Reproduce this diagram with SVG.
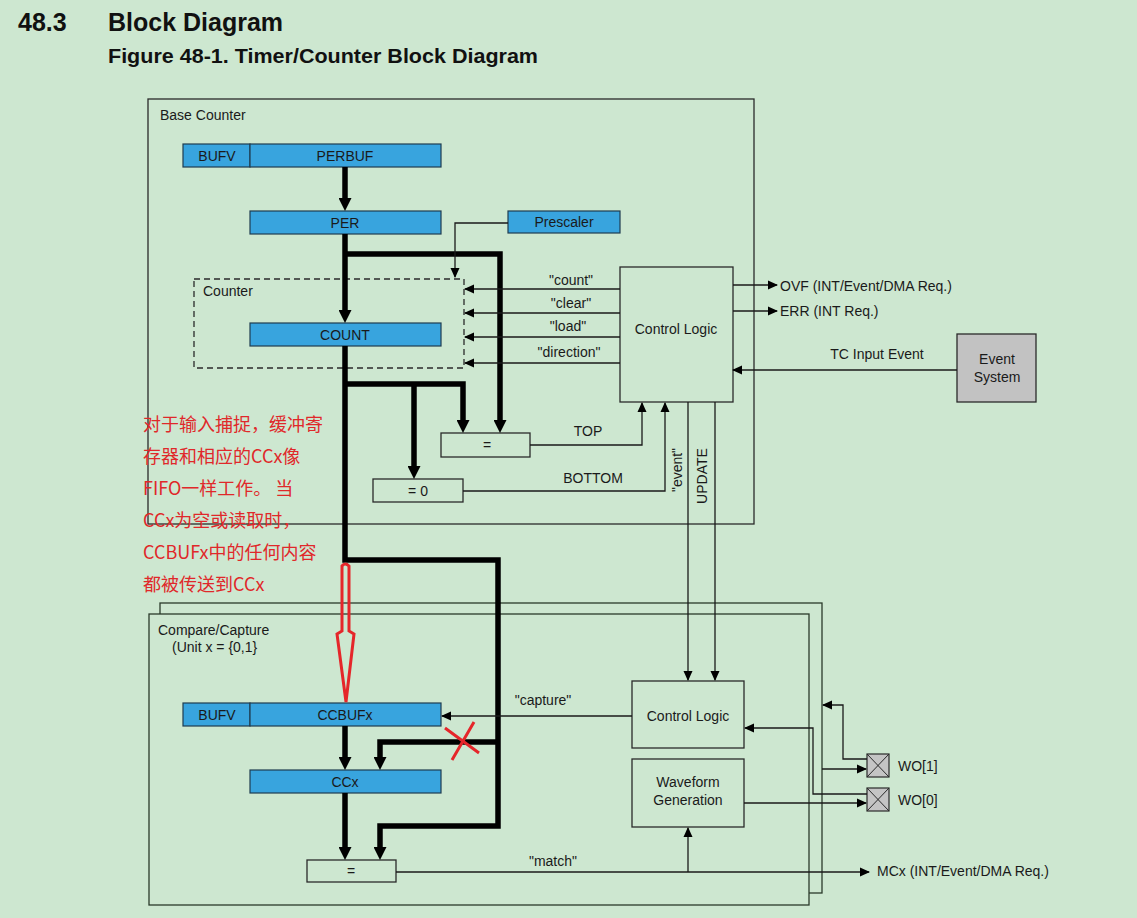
<svg xmlns="http://www.w3.org/2000/svg" width="1137" height="918" viewBox="0 0 1137 918">
<defs>
<style>
text{font-family:"Liberation Sans",Arial,sans-serif;font-size:14px;fill:#1a1a1a}
.h{font-weight:bold;fill:#111}
.c{text-anchor:middle}
.reg{fill:#38a4de;stroke:#1e3c50;stroke-width:1.2}
.box{fill:none;stroke:#2a2a2a;stroke-width:1.3}
.frame{fill:#cde7d0;stroke:#2a3a2a;stroke-width:1.3}
.thin{fill:none;stroke:#1a1a1a;stroke-width:1.3}
.thick{fill:none;stroke:#000;stroke-width:5.5;stroke-linejoin:miter}
.red{font-family:"Noto Sans CJK SC","Noto Sans",sans-serif;font-size:18px;fill:#e0282a}
.redl{fill:none;stroke:#e5262a;stroke-width:3}
</style>
<marker id="ta" viewBox="0 0 13 13" markerWidth="13" markerHeight="13" refX="3" refY="6.5" orient="auto" markerUnits="userSpaceOnUse"><path d="M0,0 L13,6.5 L0,13 Z" fill="#000"/></marker>
<marker id="a" viewBox="0 0 10 10" markerWidth="10" markerHeight="10" refX="9" refY="5" orient="auto" markerUnits="userSpaceOnUse"><path d="M0,0.5 L10,5 L0,9.5 Z" fill="#000"/></marker>
</defs>
<rect width="1137" height="918" fill="#cde7d0"/>
<g id="header">
<text class="h" x="18" y="31" style="font-size:25px">48.3</text>
<text class="h" x="108" y="31" style="font-size:25px">Block Diagram</text>
<text class="h" x="108" y="63" style="font-size:21px" textLength="430" lengthAdjust="spacingAndGlyphs">Figure 48-1.  Timer/Counter Block Diagram</text>
</g>
<g id="base-counter">
<rect class="box" x="148" y="99" width="606" height="425"/>
<text x="160" y="120">Base Counter</text>
</g>
<g id="counter-frame">
<rect x="194" y="279" width="270" height="89" fill="none" stroke="#2a2a2a" stroke-width="1.3" stroke-dasharray="6,4"/>
<text x="203" y="296">Counter</text>
</g>
<g id="perbuf">
<rect class="reg" x="183" y="144" width="67" height="23"/>
<rect class="reg" x="250" y="144" width="191" height="23"/>
<text class="c" x="217" y="161">BUFV</text>
<text class="c" x="345" y="161">PERBUF</text>
</g>
<g id="per"><rect class="reg" x="250" y="211" width="191" height="23"/><text class="c" x="345" y="228">PER</text></g>
<g id="prescaler"><rect class="reg" x="508" y="211" width="112" height="22"/><text class="c" x="564" y="227">Prescaler</text></g>
<g id="count"><rect class="reg" x="250" y="323" width="191" height="23"/><text class="c" x="345" y="340">COUNT</text></g>
<g id="eq-top"><rect class="box" x="441" y="433" width="89" height="24"/><text class="c" x="487" y="450">=</text></g>
<g id="eq-zero"><rect class="box" x="373" y="479" width="90" height="23"/><text class="c" x="418" y="496">= 0</text></g>
<g id="control-logic-1"><rect class="box" x="620" y="267" width="113" height="135"/><text class="c" x="676" y="334">Control Logic</text></g>
<g id="event-system"><rect x="957" y="334" width="79" height="68" fill="#c2c2c2" stroke="#2a2a2a" stroke-width="1.3"/><text class="c" x="997" y="364">Event</text><text class="c" x="997" y="382">System</text></g>

<g id="cc-frames">
<rect class="frame" x="160" y="603" width="662" height="290"/>
<rect class="frame" x="149" y="614" width="660" height="291"/>
<text x="158" y="635">Compare/Capture</text>
<text x="172" y="652">(Unit x = {0,1}</text>
</g>
<g id="ccbufx">
<rect class="reg" x="183" y="703" width="67" height="23"/>
<rect class="reg" x="250" y="703" width="191" height="23"/>
<text class="c" x="217" y="720">BUFV</text>
<text class="c" x="345" y="720">CCBUFx</text>
</g>
<g id="ccx"><rect class="reg" x="250" y="770" width="191" height="23"/><text class="c" x="345" y="787">CCx</text></g>
<g id="eq-cc"><rect class="box" x="307" y="860" width="89" height="22"/><text class="c" x="351" y="876">=</text></g>
<g id="control-logic-2"><rect class="box" x="632" y="681" width="112" height="67"/><text class="c" x="688" y="721">Control Logic</text></g>
<g id="waveform"><rect class="box" x="632" y="759" width="112" height="68"/><text class="c" x="688" y="787">Waveform</text><text class="c" x="688" y="805">Generation</text></g>
<g id="wo1"><rect x="867" y="754" width="22" height="23" fill="#c4c4c4" stroke="#2a2a2a" stroke-width="1.2"/><path d="M867,754 L889,777 M889,754 L867,777" stroke="#2a2a2a" stroke-width="1"/><text x="898" y="771">WO[1]</text></g>
<g id="wo0"><rect x="867" y="788" width="22" height="23" fill="#c4c4c4" stroke="#2a2a2a" stroke-width="1.2"/><path d="M867,788 L889,811 M889,788 L867,811" stroke="#2a2a2a" stroke-width="1"/><text x="898" y="805">WO[0]</text></g>

<g id="connectors">
<path class="thick" d="M345,167 V201" marker-end="url(#ta)"/>
<path class="thick" d="M345,234 V313" marker-end="url(#ta)"/>
<path class="thick" d="M345,254 H500 V423" marker-end="url(#ta)"/>
<path class="thick" d="M345,346 V560 H498 V826 H380 V850" marker-end="url(#ta)"/>
<path class="thick" d="M345,384 H463 V423" marker-end="url(#ta)"/>
<path class="thick" d="M414,384 V469" marker-end="url(#ta)"/>
<path class="thick" d="M345,726 V760" marker-end="url(#ta)"/>
<path class="thick" d="M498,742 H380 V760" marker-end="url(#ta)"/>
<path class="thick" d="M345,793 V850" marker-end="url(#ta)"/>

<path class="thin" d="M508,223 H455 V277" marker-end="url(#a)"/>
<path class="thin" d="M620,289 H465" marker-end="url(#a)"/>
<path class="thin" d="M620,313 H465" marker-end="url(#a)"/>
<path class="thin" d="M620,337 H465" marker-end="url(#a)"/>
<path class="thin" d="M620,363 H465" marker-end="url(#a)"/>
<text class="c" x="571" y="285">"count"</text>
<text class="c" x="571" y="308">"clear"</text>
<text class="c" x="568" y="331">"load"</text>
<text class="c" x="569" y="357">"direction"</text>
<path class="thin" d="M530,445 H642 V403" marker-end="url(#a)"/>
<text class="c" x="588" y="436">TOP</text>
<path class="thin" d="M463,491 H665 V403" marker-end="url(#a)"/>
<text class="c" x="593" y="483">BOTTOM</text>
<text class="c" transform="translate(682,470) rotate(-90)">"event"</text>
<text class="c" transform="translate(707,476) rotate(-90)">UPDATE</text>
<path class="thin" d="M688,402 V680" marker-end="url(#a)"/>
<path class="thin" d="M715,402 V680" marker-end="url(#a)"/>
<path class="thin" d="M733,285 H777" marker-end="url(#a)"/>
<text x="780" y="291">OVF (INT/Event/DMA Req.)</text>
<path class="thin" d="M733,311 H777" marker-end="url(#a)"/>
<text x="780" y="316">ERR (INT Req.)</text>
<path class="thin" d="M957,370 H733" marker-end="url(#a)"/>
<text class="c" x="877" y="359">TC Input Event</text>

<path class="thin" d="M632,716 H442" marker-end="url(#a)"/>
<text class="c" x="543" y="705">"capture"</text>
<path class="thin" d="M396,872 H869" marker-end="url(#a)"/>
<text class="c" x="553" y="866">"match"</text>
<text x="877" y="876">MCx (INT/Event/DMA Req.)</text>
<path class="thin" d="M688,872 V828" marker-end="url(#a)"/>
<path class="thin" d="M744,803 H866" marker-end="url(#a)"/>
<path class="thin" d="M822,769 H866" marker-end="url(#a)"/>
<path class="thin" d="M867,759 H843 V705 H823" marker-end="url(#a)"/>
<path class="thin" d="M867,794 H813 V728 H745" marker-end="url(#a)"/>
</g>

<g id="annotation">
<text class="red" x="143" y="431">对于输入捕捉，缓冲寄</text>
<text class="red" x="143" y="463">存器和相应的CCx像</text>
<text class="red" x="143" y="495">FIFO一样工作。 当</text>
<text class="red" x="143" y="527">CCx为空或读取时，</text>
<text class="red" x="143" y="559">CCBUFx中的任何内容</text>
<text class="red" x="143" y="591">都被传送到CCx</text>
<path class="redl" d="M342,566 Q345,562 349,566 V631 L354,634 L346,702 L337,634 L342,631 Z"/>
<path class="redl" d="M445,728 L479,753 M474,722 L452,760"/>
</g>
</svg>
